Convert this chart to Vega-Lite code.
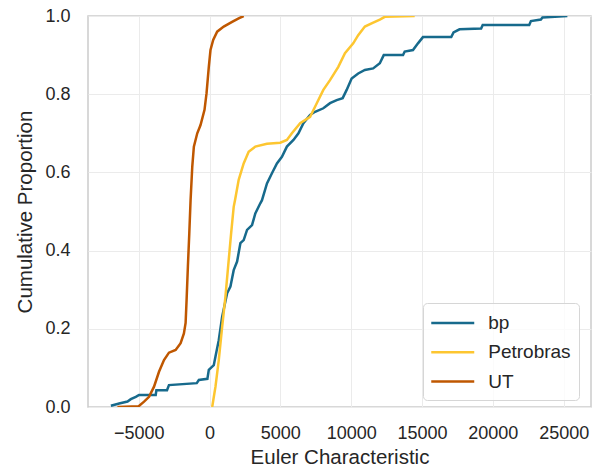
{
  "$schema": "https://vega.github.io/schema/vega-lite/v6.json",
  "width": 503,
  "height": 391,
  "autosize": "none",
  "padding": {"left": 88, "top": 16, "right": 9, "bottom": 66},
  "background": "white",
  "config": {
    "font": "Liberation Sans",
    "view": {"stroke": "#cccccc", "strokeWidth": 1.5},
    "axis": {
      "grid": true,
      "gridColor": "#ebebeb",
      "gridWidth": 1,
      "domain": false,
      "ticks": false,
      "labelFont": "Liberation Sans",
      "labelFontSize": 18,
      "labelColor": "#262626",
      "titleFont": "Liberation Sans",
      "titleFontSize": 20.5,
      "titleFontWeight": "normal",
      "titleColor": "#262626"
    }
  },
  "datasets": {
    "ecdf": [
      {"company": "bp", "euler": -6961, "prop": 0.003},
      {"company": "bp", "euler": -6377, "prop": 0.009},
      {"company": "bp", "euler": -5787, "prop": 0.014},
      {"company": "bp", "euler": -5555, "prop": 0.02},
      {"company": "bp", "euler": -5203, "prop": 0.026},
      {"company": "bp", "euler": -4971, "prop": 0.031},
      {"company": "bp", "euler": -3797, "prop": 0.031},
      {"company": "bp", "euler": -3750, "prop": 0.043},
      {"company": "bp", "euler": -3000, "prop": 0.043},
      {"company": "bp", "euler": -2862, "prop": 0.056},
      {"company": "bp", "euler": -900, "prop": 0.061},
      {"company": "bp", "euler": -752, "prop": 0.069},
      {"company": "bp", "euler": -150, "prop": 0.072},
      {"company": "bp", "euler": -49, "prop": 0.095},
      {"company": "bp", "euler": 302, "prop": 0.107},
      {"company": "bp", "euler": 422, "prop": 0.129},
      {"company": "bp", "euler": 654, "prop": 0.171},
      {"company": "bp", "euler": 893, "prop": 0.231},
      {"company": "bp", "euler": 1244, "prop": 0.291},
      {"company": "bp", "euler": 1477, "prop": 0.308},
      {"company": "bp", "euler": 1708, "prop": 0.35},
      {"company": "bp", "euler": 1948, "prop": 0.372},
      {"company": "bp", "euler": 2180, "prop": 0.419},
      {"company": "bp", "euler": 2412, "prop": 0.427},
      {"company": "bp", "euler": 2651, "prop": 0.453},
      {"company": "bp", "euler": 3002, "prop": 0.465},
      {"company": "bp", "euler": 3234, "prop": 0.495},
      {"company": "bp", "euler": 3586, "prop": 0.521},
      {"company": "bp", "euler": 3705, "prop": 0.529},
      {"company": "bp", "euler": 4057, "prop": 0.572},
      {"company": "bp", "euler": 4408, "prop": 0.598},
      {"company": "bp", "euler": 4760, "prop": 0.623},
      {"company": "bp", "euler": 5112, "prop": 0.64},
      {"company": "bp", "euler": 5463, "prop": 0.666},
      {"company": "bp", "euler": 5927, "prop": 0.683},
      {"company": "bp", "euler": 6279, "prop": 0.7},
      {"company": "bp", "euler": 6630, "prop": 0.726},
      {"company": "bp", "euler": 7101, "prop": 0.747},
      {"company": "bp", "euler": 7453, "prop": 0.755},
      {"company": "bp", "euler": 8036, "prop": 0.764},
      {"company": "bp", "euler": 8507, "prop": 0.777},
      {"company": "bp", "euler": 8979, "prop": 0.785},
      {"company": "bp", "euler": 9400, "prop": 0.79},
      {"company": "bp", "euler": 9682, "prop": 0.811},
      {"company": "bp", "euler": 10033, "prop": 0.84},
      {"company": "bp", "euler": 10497, "prop": 0.853},
      {"company": "bp", "euler": 10968, "prop": 0.862},
      {"company": "bp", "euler": 11552, "prop": 0.866},
      {"company": "bp", "euler": 12023, "prop": 0.879},
      {"company": "bp", "euler": 12300, "prop": 0.9},
      {"company": "bp", "euler": 13662, "prop": 0.9},
      {"company": "bp", "euler": 13780, "prop": 0.909},
      {"company": "bp", "euler": 14364, "prop": 0.913},
      {"company": "bp", "euler": 14716, "prop": 0.93},
      {"company": "bp", "euler": 15067, "prop": 0.946},
      {"company": "bp", "euler": 17065, "prop": 0.946},
      {"company": "bp", "euler": 17226, "prop": 0.958},
      {"company": "bp", "euler": 17648, "prop": 0.966},
      {"company": "bp", "euler": 19174, "prop": 0.968},
      {"company": "bp", "euler": 19286, "prop": 0.977},
      {"company": "bp", "euler": 22570, "prop": 0.977},
      {"company": "bp", "euler": 22689, "prop": 0.987},
      {"company": "bp", "euler": 23393, "prop": 0.991},
      {"company": "bp", "euler": 23504, "prop": 0.996},
      {"company": "bp", "euler": 25262, "prop": 1.0},
      {"company": "Petrobras", "euler": 190, "prop": 0.0},
      {"company": "Petrobras", "euler": 422, "prop": 0.052},
      {"company": "Petrobras", "euler": 654, "prop": 0.12},
      {"company": "Petrobras", "euler": 893, "prop": 0.205},
      {"company": "Petrobras", "euler": 1125, "prop": 0.282},
      {"company": "Petrobras", "euler": 1357, "prop": 0.376},
      {"company": "Petrobras", "euler": 1526, "prop": 0.444},
      {"company": "Petrobras", "euler": 1708, "prop": 0.512},
      {"company": "Petrobras", "euler": 1800, "prop": 0.529},
      {"company": "Petrobras", "euler": 2060, "prop": 0.581},
      {"company": "Petrobras", "euler": 2412, "prop": 0.623},
      {"company": "Petrobras", "euler": 2763, "prop": 0.653},
      {"company": "Petrobras", "euler": 3234, "prop": 0.666},
      {"company": "Petrobras", "euler": 4057, "prop": 0.673},
      {"company": "Petrobras", "euler": 4992, "prop": 0.676},
      {"company": "Petrobras", "euler": 5463, "prop": 0.683},
      {"company": "Petrobras", "euler": 5815, "prop": 0.7},
      {"company": "Petrobras", "euler": 6398, "prop": 0.726},
      {"company": "Petrobras", "euler": 7101, "prop": 0.742},
      {"company": "Petrobras", "euler": 7572, "prop": 0.777},
      {"company": "Petrobras", "euler": 8036, "prop": 0.811},
      {"company": "Petrobras", "euler": 8507, "prop": 0.836},
      {"company": "Petrobras", "euler": 9091, "prop": 0.87},
      {"company": "Petrobras", "euler": 9562, "prop": 0.905},
      {"company": "Petrobras", "euler": 10146, "prop": 0.93},
      {"company": "Petrobras", "euler": 10497, "prop": 0.951},
      {"company": "Petrobras", "euler": 10968, "prop": 0.973},
      {"company": "Petrobras", "euler": 11440, "prop": 0.981},
      {"company": "Petrobras", "euler": 12023, "prop": 0.991},
      {"company": "Petrobras", "euler": 12374, "prop": 0.998},
      {"company": "Petrobras", "euler": 14484, "prop": 1.0},
      {"company": "UT", "euler": -6500, "prop": 0.0},
      {"company": "UT", "euler": -5000, "prop": 0.002},
      {"company": "UT", "euler": -4620, "prop": 0.0136},
      {"company": "UT", "euler": -4268, "prop": 0.026},
      {"company": "UT", "euler": -3916, "prop": 0.052},
      {"company": "UT", "euler": -3565, "prop": 0.09},
      {"company": "UT", "euler": -3213, "prop": 0.12},
      {"company": "UT", "euler": -2862, "prop": 0.139},
      {"company": "UT", "euler": -2391, "prop": 0.146},
      {"company": "UT", "euler": -2039, "prop": 0.163},
      {"company": "UT", "euler": -1807, "prop": 0.188},
      {"company": "UT", "euler": -1687, "prop": 0.215},
      {"company": "UT", "euler": -1617, "prop": 0.274},
      {"company": "UT", "euler": -1526, "prop": 0.359},
      {"company": "UT", "euler": -1427, "prop": 0.444},
      {"company": "UT", "euler": -1336, "prop": 0.529},
      {"company": "UT", "euler": -1216, "prop": 0.615},
      {"company": "UT", "euler": -1104, "prop": 0.666},
      {"company": "UT", "euler": -865, "prop": 0.7},
      {"company": "UT", "euler": -633, "prop": 0.721},
      {"company": "UT", "euler": -352, "prop": 0.76},
      {"company": "UT", "euler": -211, "prop": 0.802},
      {"company": "UT", "euler": -49, "prop": 0.87},
      {"company": "UT", "euler": 70, "prop": 0.913},
      {"company": "UT", "euler": 260, "prop": 0.939},
      {"company": "UT", "euler": 541, "prop": 0.96},
      {"company": "UT", "euler": 1005, "prop": 0.973},
      {"company": "UT", "euler": 1596, "prop": 0.985},
      {"company": "UT", "euler": 2060, "prop": 0.994},
      {"company": "UT", "euler": 2412, "prop": 1.0}
    ]
  },
  "data": {"name": "ecdf"},
  "mark": {"type": "line", "strokeWidth": 2.5, "clip": true},
  "encoding": {
    "x": {
      "field": "euler",
      "type": "quantitative",
      "scale": {"domain": [-8577, 26930], "nice": false, "zero": false},
      "axis": {
        "title": "Euler Characteristic",
        "values": [-5000, 0, 5000, 10000, 15000, 20000, 25000],
        "format": "d",
        "labelExpr": "replace(datum.label, '-', '\u2212')",
        "labelPadding": 17,
        "titlePadding": 5
      }
    },
    "y": {
      "field": "prop",
      "type": "quantitative",
      "scale": {"domain": [0, 1], "nice": false},
      "axis": {
        "title": "Cumulative Proportion",
        "values": [0, 0.2, 0.4, 0.6, 0.8, 1.0],
        "format": ".1f",
        "labelPadding": 18,
        "titlePadding": 9
      }
    },
    "color": {
      "field": "company",
      "type": "nominal",
      "sort": ["bp", "Petrobras", "UT"],
      "scale": {"domain": ["bp", "Petrobras", "UT"], "range": ["#176a8c", "#fdc630", "#bf5700"]},
      "legend": {
        "title": null,
        "orient": "none",
        "legendX": 335,
        "legendY": 287,
        "padding": 8,
        "fillColor": "rgba(255,255,255,0.8)",
        "strokeColor": "#d6d6d6",
        "cornerRadius": 4,
        "symbolType": "M-2,0H2",
        "symbolSize": 462,
        "symbolStrokeWidth": 2.5,
        "symbolOffset": 9.75,
        "labelOffset": 23.5,
        "rowPadding": 7.3,
        "labelFontSize": 19,
        "labelFont": "Liberation Sans",
        "labelColor": "#262626"
      }
    }
  }
}
